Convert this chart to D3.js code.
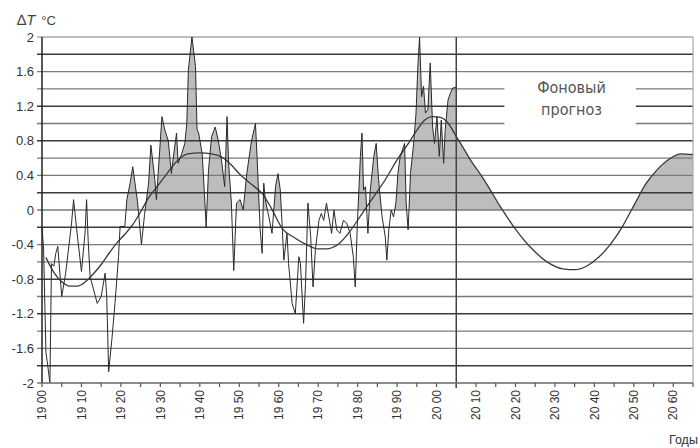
<!DOCTYPE html>
<html>
<head>
<meta charset="utf-8">
<script src="https://cdn.jsdelivr.net/npm/d3@7"></script>
<style>
  body { margin: 0; background: #fff; }
  svg { display: block; font-family: "Liberation Sans", Arial, sans-serif; }
</style>
</head>
<body>
<div class="canvas"></div>
<script>
var obsYears = [1900, 1900.4, 1901, 1901.4, 1902, 1902.4, 1903, 1903.5, 1904, 1905, 1906, 1907.5, 1908, 1908.8,
    1910, 1910.9, 1911.3, 1911.7, 1912.2, 1914, 1915, 1916, 1916.4, 1916.9, 1917.7, 1918.5, 1919.4, 1919.8,
    1921, 1921.5, 1922.3, 1923, 1924.2, 1925.2, 1926, 1927, 1927.6, 1928.6, 1929, 1930.4, 1931.1, 1932,
    1932.8, 1933.2, 1934.1, 1934.5, 1935.4, 1936.2, 1936.7, 1937.1, 1938, 1938.9, 1939.3, 1939.7, 1940.6,
    1941.4, 1941.6, 1942.2, 1943, 1943.9, 1944.7, 1945.6, 1946.3, 1946.9, 1947.3, 1948, 1948.6, 1949.3,
    1950.2, 1951, 1951.9, 1953.1, 1954.1, 1954.5, 1955.3, 1955.8, 1956.2, 1956.6, 1957.5, 1958.3, 1959.2,
    1959.8, 1960.4, 1960.8, 1961.3, 1962.1, 1962.5, 1963.4, 1964.2, 1965.1, 1965.5, 1966.3, 1966.8, 1967.4,
    1968.1, 1968.7, 1969.3, 1970.2, 1970.8, 1971.4, 1972.1, 1972.7, 1973.4, 1974, 1974.7, 1975.5, 1976.4,
    1977.2, 1978.1, 1978.9, 1979.4, 1979.9, 1980.7, 1981.1, 1981.5, 1982, 1982.6, 1983.2, 1984.1, 1984.7,
    1985.3, 1986.2, 1987, 1987.4, 1987.9, 1988.5, 1989.1, 1989.7, 1990.2, 1990.8, 1991.9, 1992.3, 1992.8,
    1993.4, 1994.2, 1994.8, 1995.3, 1995.7, 1996.2, 1996.7, 1997.2, 1997.8, 1998.4, 1999, 1999.5, 2000.1,
    2000.7, 2001.2, 2001.8, 2002.2, 2002.9, 2003.5, 2004.1, 2005];
var obsValues = [-0.2, -0.45, -1.65, -1.78, -2.0, -0.62, -0.65, -0.5, -0.42, -1.0, -0.73, -0.15, 0.12, -0.23,
    -0.71, -0.27, 0.12, -0.35, -0.77, -1.08, -1.0, -0.73, -1.0, -1.87, -1.5, -1.08, -0.54, -0.19,
    -0.19, 0.12, 0.3, 0.5, 0.1, -0.4, -0.05, 0.3, 0.75, 0.35, 0.12, 1.08, 0.93, 0.8,
    0.42, 0.58, 0.89, 0.54, 0.65, 0.77, 1.0, 1.62, 2.0, 1.66, 0.93, 0.89, 0.65,
    0.0, -0.2, 0.46, 0.85, 0.96, 0.8, 0.54, 0.27, 1.08, 0.54, 0.08, -0.7, 0.08,
    0.12, 0.0, 0.42, 0.8, 1.0, 0.62, -0.23, -0.5, 0.31, 0.12, -0.08, -0.27, 0.27,
    0.42, 0.23, -0.12, -0.58, -0.27, -0.62, -1.08, -1.2, -0.54, -0.62, -1.31, -0.85, 0.08,
    -0.31, -0.89, -0.46, -0.12, -0.04, -0.12, 0.08, -0.08, -0.27, 0.0, -0.23, -0.27, -0.12,
    -0.15, -0.27, -0.54, -0.89, -0.19, 0.62, 0.89, 0.23, 0.27, -0.27, 0.23, 0.62, 0.77,
    0.35, -0.08, -0.31, -0.58, -0.23, 0.0, -0.08, 0.08, 0.42, 0.62, 0.77, 0.08, -0.23,
    0.42, 0.77, 1.12, 1.7, 2.0, 1.31, 1.43, 1.12, 1.16, 1.7, 0.96, 0.77, 1.08,
    0.62, 1.04, 0.54, 0.93, 1.27, 1.35, 1.41, 1.42];

// smoothed trend and background forecast
var trendYears = [1901, 1903, 1905, 1907, 1909, 1911, 1913, 1915, 1917, 1919, 1921, 1923, 1925, 1927, 1929,
    1931, 1933, 1935, 1937, 1940, 1943, 1946, 1948, 1950, 1953, 1956, 1958, 1961, 1964, 1967, 1970,
    1972, 1975, 1978, 1981, 1984, 1987, 1990, 1993, 1995, 1997, 1999, 2001, 2003, 2005, 2007, 2009,
    2011, 2013, 2016, 2020, 2024, 2028, 2032, 2035, 2038, 2041, 2044, 2047, 2050, 2053, 2056, 2059,
    2062, 2065];
var trendValues = [-0.55, -0.72, -0.83, -0.88, -0.88, -0.83, -0.74, -0.63, -0.5, -0.38, -0.28, -0.17, -0.02, 0.14, 0.26,
    0.38, 0.5, 0.6, 0.65, 0.66, 0.65, 0.6, 0.52, 0.42, 0.3, 0.18, 0.03, -0.22, -0.32, -0.4, -0.45,
    -0.45, -0.4, -0.25, -0.05, 0.15, 0.35, 0.58, 0.78, 0.92, 1.04, 1.08, 1.07, 1.0, 0.85, 0.7, 0.55,
    0.42, 0.28, 0.05, -0.22, -0.44, -0.6, -0.68, -0.69, -0.65, -0.55, -0.4, -0.2, 0.05, 0.3, 0.47, 0.59,
    0.65, 0.64];

var forecastStart = 2005;
var yTicks = [-2, -1.8, -1.6, -1.4, -1.2, -1, -0.8, -0.6, -0.4, -0.2, 0, 0.2, 0.4, 0.6, 0.8, 1, 1.2, 1.4, 1.6, 1.8, 2];
var yLabels = [-2, -1.6, -1.2, -0.8, -0.4, 0, 0.4, 0.8, 1.2, 1.6, 2];
var darkLines = [-1.8, -1.2, -0.8, -0.2, 0.2, 0.8, 1.2, 1.8];
var xLabels = [1900, 1910, 1920, 1930, 1940, 1950, 1960, 1970, 1980, 1990, 2000, 2010, 2020, 2030, 2040, 2050, 2060];
var xMinor = [1900, 1905, 1910, 1915, 1920, 1925, 1930, 1935, 1940, 1945, 1950, 1955, 1960, 1965, 1970, 1975,
    1980, 1985, 1990, 1995, 2000, 2005, 2010, 2015, 2020, 2025, 2030, 2035, 2040, 2045, 2050, 2055, 2060, 2065];

var W = 700, H = 448;
var margin = { top: 37, right: 7, bottom: 65, left: 42 };

var svg = d3.select(".canvas").append("svg")
    .attr("width", W)
    .attr("height", H);

svg.append("rect").attr("width", W).attr("height", H).attr("fill", "#fff");

var x = d3.scaleLinear().domain([1900, 2065]).range([margin.left, W - margin.right]);
var y = d3.scaleLinear().domain([-2, 2]).range([H - margin.bottom, margin.top]);

var obs = obsYears.map(function (d, i) { return { year: d, v: obsValues[i] }; });
var trend = trendYears.map(function (d, i) { return { year: d, v: trendValues[i] }; });
var forecast = trend.filter(function (d) { return d.year >= forecastStart; });

// only the part above zero is shaded
svg.append("clipPath").attr("id", "above")
    .append("rect")
    .attr("x", x(1900)).attr("y", y(2) - 2)
    .attr("width", x(2065) - x(1900)).attr("height", y(0) - y(2) + 2);

var area = d3.area()
    .x(function (d) { return x(d.year); })
    .y0(y(0))
    .y1(function (d) { return y(d.v); });

var fills = svg.append("g").attr("clip-path", "url(#above)");
fills.append("path").datum(obs).attr("fill", "#bdbdbd").attr("d", area);
fills.append("path").datum(forecast).attr("fill", "#bdbdbd")
    .attr("d", area.curve(d3.curveMonotoneX));

// horizontal grid
svg.append("g").selectAll("line").data(yTicks).enter().append("line")
    .attr("x1", x(1900) - 5).attr("x2", x(2065))
    .attr("y1", function (d) { return y(d); })
    .attr("y2", function (d) { return y(d); })
    .attr("stroke", function (d) {
        if (d === 2) return "#aaa";
        return darkLines.indexOf(d) >= 0 ? "#3a3a3a" : "#7a7a7a";
    })
    .attr("stroke-width", 1.4);

// right border
svg.append("line")
    .attr("x1", x(2065)).attr("x2", x(2065))
    .attr("y1", y(2)).attr("y2", y(-2))
    .attr("stroke", "#aaa").attr("stroke-width", 1.2);

// label box
var boxX0 = x(2017.2), boxX1 = x(2050.5);
svg.append("rect")
    .attr("x", boxX0).attr("y", y(1.51))
    .attr("width", boxX1 - boxX0).attr("height", y(0.88) - y(1.51))
    .attr("fill", "#fff");
var lbl = svg.append("text")
    .attr("text-anchor", "middle")
    .attr("fill", "#555")
    .style("font-family", "'Liberation Sans Narrow', 'DejaVu Sans Condensed', sans-serif")
    .style("font-size", "16px");
lbl.append("tspan").attr("x", x(2034.2)).attr("y", y(1.1) - 22).text("Фоновый");
lbl.append("tspan").attr("x", x(2034.2)).attr("y", y(1.1)).text("прогноз");

// lines
var line = d3.line()
    .x(function (d) { return x(d.year); })
    .y(function (d) { return y(d.v); });

svg.append("path").datum(trend)
    .attr("fill", "none").attr("stroke", "#3a3a3a").attr("stroke-width", 1.3)
    .attr("d", line.curve(d3.curveMonotoneX));

svg.append("path").datum(obs)
    .attr("fill", "none").attr("stroke", "#2a2a2a").attr("stroke-width", 1)
    .attr("d", d3.line()
        .x(function (d) { return x(d.year); })
        .y(function (d) { return y(d.v); }));

// start of forecast
svg.append("line")
    .attr("x1", x(forecastStart)).attr("x2", x(forecastStart))
    .attr("y1", y(2)).attr("y2", y(-2) + 5)
    .attr("stroke", "#444").attr("stroke-width", 1.5);

// axes
svg.append("line")
    .attr("x1", x(1900)).attr("x2", x(1900))
    .attr("y1", y(2)).attr("y2", y(-2))
    .attr("stroke", "#222").attr("stroke-width", 1.5);
svg.append("line")
    .attr("x1", x(1900)).attr("x2", x(2065))
    .attr("y1", y(-2)).attr("y2", y(-2))
    .attr("stroke", "#888").attr("stroke-width", 1.4);

svg.append("g").selectAll("line").data(xMinor).enter().append("line")
    .attr("x1", function (d) { return x(d); })
    .attr("x2", function (d) { return x(d); })
    .attr("y1", y(-2)).attr("y2", y(-2) + 4)
    .attr("stroke", "#555").attr("stroke-width", 1.2);

svg.append("g").selectAll("text").data(yLabels).enter().append("text")
    .attr("x", x(1900) - 8)
    .attr("y", function (d) { return y(d); })
    .attr("dy", "0.35em")
    .attr("text-anchor", "end")
    .attr("fill", "#333")
    .style("font-size", "13px")
    .text(function (d) { return d === 0 ? "0" : d3.format("")(d).replace("−", "-"); });

svg.append("g").selectAll("text").data(xLabels).enter().append("text")
    .attr("transform", function (d) { return "translate(" + x(d) + "," + (y(-2) + 7) + ") rotate(-90)"; })
    .attr("dy", "0.35em")
    .attr("text-anchor", "end")
    .attr("fill", "#333")
    .style("font-size", "12px")
    .text(function (d) { var s = String(d); return s.slice(0, 2) + " " + s.slice(2); });

svg.append("text")
    .attr("x", W - 31).attr("y", H - 4)
    .attr("fill", "#333")
    .style("font-size", "12.5px")
    .text("Годы");

var yt = svg.append("text")
    .attr("x", 17).attr("y", 25)
    .attr("fill", "#444")
    .style("font-size", "15px");
yt.append("tspan").text("∆");
yt.append("tspan").style("font-style", "italic").text("T");
yt.append("tspan").attr("dx", 6).style("font-size", "13px").text("°C");
</script>
</body>
</html>
